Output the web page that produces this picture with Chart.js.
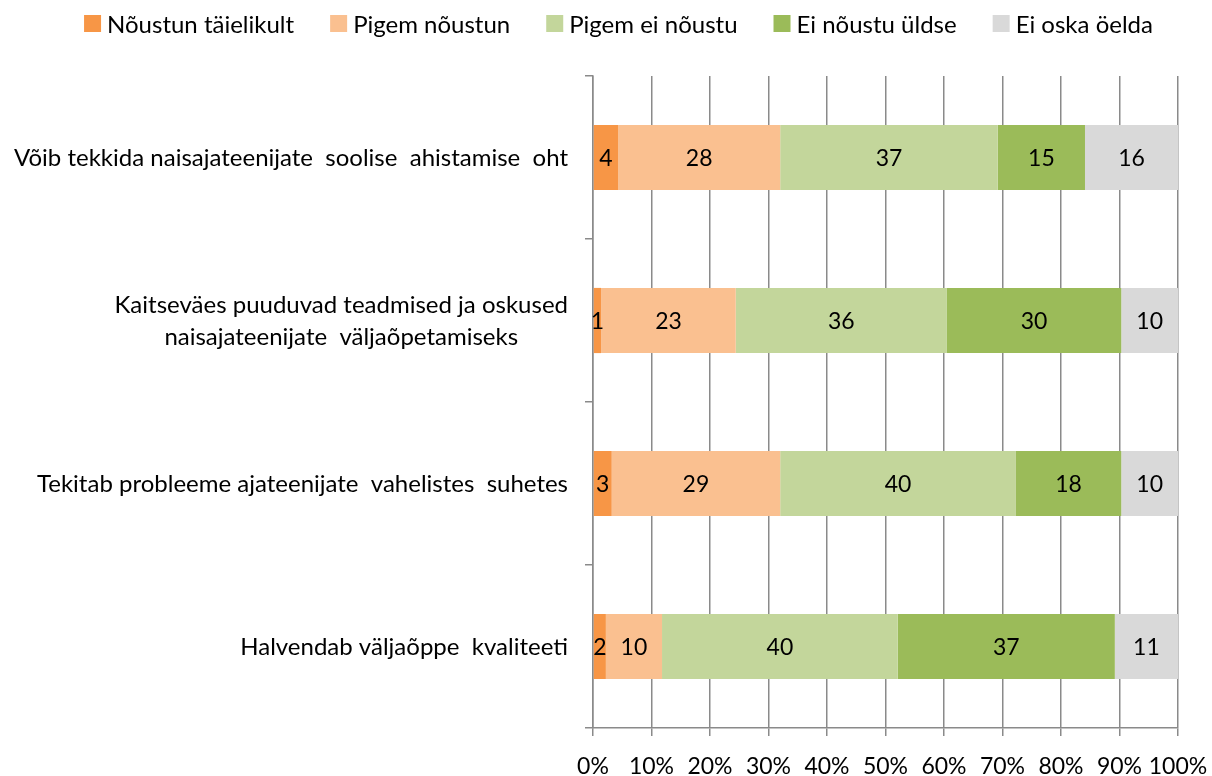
<!DOCTYPE html>
<html>
<head>
<meta charset="utf-8">
<script src="https://cdn.jsdelivr.net/npm/chart.js@4.4.1/dist/chart.umd.min.js"></script>
<style>
html,body{margin:0;padding:0;background:#fff;}
#wrap{width:1212px;height:776px;}
</style>
</head>
<body>
<div id="wrap"><canvas id="c" width="1212" height="776"></canvas></div>
<script>
const categories = [
  "Võib tekkida naisajateenijate  soolise  ahistamise  oht",
  ["Kaitseväes puuduvad teadmised ja oskused", "naisajateenijate  väljaõpetamiseks"],
  "Tekitab probleeme ajateenijate  vahelistes  suhetes",
  "Halvendab väljaõppe  kvaliteeti"
];
const seriesNames = ["Nõustun täielikult", "Pigem nõustun", "Pigem ei nõustu", "Ei nõustu üldse", "Ei oska öelda"];
const nõustunTäielikult = [4.3, 1.4, 3.2, 2.2];
const pigemNõustun      = [27.7, 23.0, 28.8, 9.6];
const pigemEiNõustu     = [37.2, 36.1, 40.3, 40.3];
const eiNõustuÜldse     = [14.9, 29.8, 18.0, 37.1];
const eiOskaÖelda       = [15.9, 9.7, 9.7, 10.8];
const xTicks = [0,10,20,30,40,50,60,70,80,90,100];

const colors = ["#F79646", "#FAC090", "#C3D69B", "#9BBB59", "#D9D9D9"];
const seriesValues = [nõustunTäielikult, pigemNõustun, pigemEiNõustu, eiNõustuÜldse, eiOskaÖelda];
const FONT = "Lato";
const FS = 23;
const GRID = "#8a8a8a";

const datasets = seriesNames.map((n, i) => ({
  label: n,
  data: seriesValues[i],
  backgroundColor: colors[i],
  borderWidth: 0,
  barPercentage: 0.4,
  categoryPercentage: 1.0
}));

const valueLabels = {
  id: 'valueLabels',
  afterDatasetsDraw(chart) {
    const ctx = chart.ctx;
    ctx.save();
    ctx.font = FS + "px " + FONT;
    ctx.fillStyle = "#000";
    ctx.textAlign = "center";
    ctx.textBaseline = "middle";
    chart.data.datasets.forEach((ds, di) => {
      const meta = chart.getDatasetMeta(di);
      meta.data.forEach((el, i) => {
        const v = ds.data[i];
        const cx = (el.x + el.base) / 2;
        ctx.fillText(String(Math.round(v)), cx, el.y + 1);
      });
    });
    ctx.restore();
  }
};

const catLabels = {
  id: 'catLabels',
  afterDraw(chart) {
    const ctx = chart.ctx;
    const ys = chart.scales.y;
    ctx.save();
    ctx.font = "24px " + FONT;
    ctx.fillStyle = "#000";
    ctx.textAlign = "center";
    ctx.textBaseline = "middle";
    const right = ys.right - 25;
    const lh = 32;
    chart.data.labels.forEach((lab, i) => {
      const lines = Array.isArray(lab) ? lab : [lab];
      const w = Math.max(...lines.map(l => ctx.measureText(l).width));
      const cx = right - w / 2;
      const cy = ys.getPixelForTick(i);
      lines.forEach((l, k) => {
        ctx.fillText(l, cx, cy + 1 + (k - (lines.length - 1) / 2) * lh);
      });
    });
    ctx.restore();
  }
};

const topLegend = {
  id: 'topLegend',
  afterDraw(chart) {
    const ctx = chart.ctx;
    ctx.save();
    ctx.font = "24px " + FONT;
    ctx.textBaseline = "middle";
    ctx.textAlign = "left";
    const box = 17, gapText = 6, gapItem = 36;
    const ds = chart.data.datasets;
    const widths = ds.map(d => ctx.measureText(d.label).width);
    const total = widths.reduce((a, w) => a + box + gapText + w, 0) + gapItem * (ds.length - 1);
    let x = 618.5 - total / 2;
    const cy = 24;
    ds.forEach((d, i) => {
      ctx.fillStyle = d.backgroundColor;
      ctx.fillRect(x, cy - 9, box, box);
      ctx.fillStyle = "#000";
      ctx.fillText(d.label, x + box + gapText, cy + 1);
      x += box + gapText + widths[i] + gapItem;
    });
    ctx.restore();
  }
};

new Chart(document.getElementById('c'), {
  type: 'bar',
  data: { labels: categories, datasets },
  options: {
    indexAxis: 'y',
    responsive: false,
    animation: false,
    layout: { padding: { left: 0, right: 34, top: 76, bottom: 0 } },
    plugins: {
      legend: { display: false },
      tooltip: { enabled: false }
    },
    scales: {
      x: {
        stacked: true,
        min: 0, max: 100,
        afterBuildTicks(scale) { scale.ticks = xTicks.map(v => ({ value: v })); },
        afterFit(scale) { scale.height = 48; scale.paddingRight = 0; scale.paddingLeft = 0; },
        ticks: {
          callback: v => v + "%",
          font: { family: FONT, size: FS },
          color: "#000",
          padding: 17,
          maxRotation: 0,
          autoSkip: false
        },
        grid: { color: GRID, lineWidth: 1.5, tickLength: 8, drawTicks: true },
        border: { display: true, color: GRID, width: 1.5 }
      },
      y: {
        stacked: true,
        afterFit(scale) { scale.width = 593; scale.paddingTop = 0; scale.paddingBottom = 0; },
        ticks: { display: false },
        grid: { offset: true, drawOnChartArea: false, drawTicks: true, tickLength: 8, color: GRID, lineWidth: 1.5 },
        border: { display: true, color: GRID, width: 1.5 }
      }
    }
  },
  plugins: [valueLabels, catLabels, topLegend]
});
</script>
</body>
</html>
